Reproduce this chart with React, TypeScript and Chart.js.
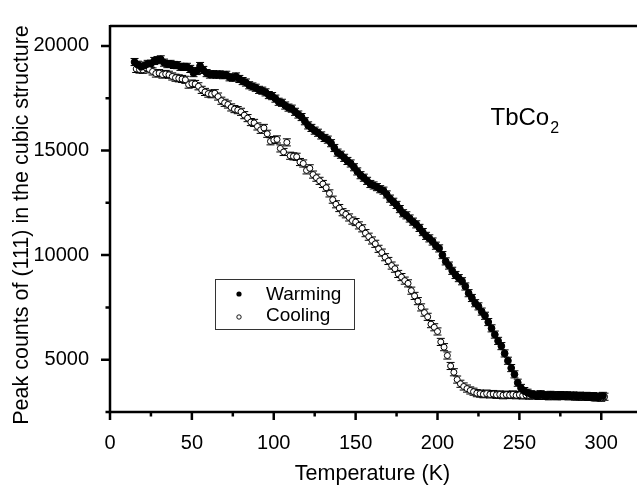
import { useEffect, useRef } from "react";
import { Chart, registerables } from "chart.js";

Chart.register(...registerables);

// ---- Data ----
const warmingT = [
  15, 17, 19, 21, 23, 25, 27, 29, 31, 33, 35, 37, 39, 41, 43, 45, 47, 49, 51, 53,
  55, 57, 59, 61, 63, 65, 67, 69, 71, 73, 75, 77, 79, 81, 83, 85, 87, 89, 91, 93,
  95, 97, 99, 101, 103, 105, 107, 109, 111, 113, 115, 117, 119, 121, 123, 125, 127, 129, 131, 133,
  135, 137, 139, 141, 143, 145, 147, 149, 151, 153, 155, 157, 159, 161, 163, 165, 167, 169, 171, 173,
  175, 177, 179, 181, 183, 185, 187, 189, 191, 193, 195, 197, 199, 201, 203, 205, 207, 209, 211, 213,
  215, 217, 219, 221, 223, 225, 227, 229, 231, 233, 235, 237, 239, 241, 243, 245, 247, 249, 251, 253,
  255, 257, 259, 261, 263, 265, 267, 269, 271, 273, 275, 277, 279, 281, 283, 285, 287, 289, 291, 293,
  295, 297, 299, 301,
];
const warmingCounts = [
  19230, 19100, 19000, 19060, 19140, 19150, 19280, 19320, 19360, 19200, 19130, 19140, 19090, 19080, 19000, 18997, 19000, 18900, 18700, 18800,
  19040, 18850, 18700, 18630, 18650, 18620, 18640, 18600, 18620, 18500, 18480, 18540, 18420, 18320, 18250, 18120, 18060, 18000, 17900, 17860,
  17780, 17650, 17600, 17480, 17330, 17280, 17150, 17050, 17000, 16850, 16720, 16600, 16400, 16200, 16080, 15950, 15850, 15720, 15600, 15520,
  15350, 15120, 14900, 14800, 14650, 14500, 14380, 14200, 14000, 13820, 13700, 13550, 13400, 13330, 13250, 13150, 13080, 12900, 12700, 12550,
  12400, 12200, 12000, 11900, 11750, 11600, 11470, 11300, 11100, 10920, 10800, 10650, 10450, 10320, 10000, 9700, 9500, 9250, 9050, 8900,
  8750, 8500, 8180, 7950, 7700, 7550, 7300, 7100, 6800, 6500, 6200, 5900, 5650, 5300, 4950, 4600, 4300, 3900, 3650, 3500,
  3420, 3350, 3320, 3280, 3350, 3300, 3270, 3320, 3290, 3250, 3310, 3280, 3300, 3260, 3290, 3240, 3280, 3250, 3270, 3230,
  3260, 3200, 3240, 3270,
];

const coolingT = [
  16, 18, 20, 22, 24, 26, 28, 30, 32, 34, 36, 38, 40, 42, 44, 46, 48, 50, 52, 54,
  56, 58, 60, 62, 64, 66, 68, 70, 72, 74, 76, 78, 80, 82, 84, 86, 88, 90, 92, 94,
  96, 98, 100, 102, 104, 106, 108, 110, 112, 114, 116, 118, 120, 122, 124, 126, 128, 130, 132, 134,
  136, 138, 140, 142, 144, 146, 148, 150, 152, 154, 156, 158, 160, 162, 164, 166, 168, 170, 172, 174,
  176, 178, 180, 182, 184, 186, 188, 190, 192, 194, 196, 198, 200, 202, 204, 206, 208, 210, 212, 214,
  216, 218, 220, 222, 224, 226, 228, 230, 232, 234, 236, 238, 240, 242, 244, 246, 248, 250, 252, 254,
  256, 258, 260, 262, 264, 266, 268, 270, 272, 274, 276, 278, 280, 282, 284, 286, 288, 290, 292, 294,
  296, 298, 300, 302,
];
const coolingCounts = [
  18900, 18870, 18860, 18950, 18880, 18780, 18680, 18700, 18630, 18660, 18620, 18540, 18480, 18450, 18420, 18380, 18150, 18200, 18180, 18070,
  17900, 17800, 17720, 17690, 17740, 17580, 17380, 17280, 17200, 17060, 16980, 16930, 16850, 16690, 16550, 16360, 16320, 16150, 15990, 16080,
  15800, 15440, 15500, 15530, 15100, 14930, 15390, 14750, 14720, 14700, 14450, 14380, 14050, 14150, 13850, 13700, 13550, 13400, 13220, 12950,
  12650, 12430, 12250, 12050, 11950, 11800, 11650, 11580, 11420, 11280, 11050, 10880, 10700, 10540, 10300, 10120, 9900, 9720, 9500, 9350,
  9100, 8950, 8780, 8650, 8300, 8050, 7800, 7500, 7250, 7050, 6700, 6550, 6350, 5850, 5600, 5200, 4700, 4400, 4050, 3850,
  3720, 3620, 3530, 3470, 3400, 3380, 3350, 3380, 3340, 3360, 3320, 3340, 3300, 3330, 3310, 3340, 3300, 3320, 3290, 3310,
  3280, 3300, 3320, 3270, 3300, 3280, 3250, 3290, 3270, 3300, 3260, 3280, 3250, 3270, 3240, 3260, 3230, 3250, 3220, 3240,
  3200, 3220, 3180, 3230,
];

const countError = 170;

const xMajorTicks = [0, 50, 100, 150, 200, 250, 300];
const xMinorTicks = [25, 75, 125, 175, 225, 275];
const yMajorTicks = [5000, 10000, 15000, 20000];
const yMinorTicks = [2500, 7500, 12500, 17500];

const xTitle = "Temperature (K)";
const yTitle = "Peak counts of (111) in the cubic structure";
const seriesLabels = ["Warming", "Cooling"];
const sampleName = "TbCo";
const sampleSub = "2";

const FONT = "'Liberation Sans', Arial, Helvetica, sans-serif";

const decorPlugin = {
  id: "decor",
  beforeDatasetsDraw(chart: any) {
    const ctx = chart.ctx;
    const ys = chart.scales.y;
    ctx.save();
    ctx.strokeStyle = "#000";
    ctx.lineWidth = 1;
    chart.data.datasets.forEach((ds: any, di: number) => {
      const meta = chart.getDatasetMeta(di);
      meta.data.forEach((pt: any, i: number) => {
        const v = ds.data[i].y;
        const x = pt.x;
        const yTop = ys.getPixelForValue(v + countError);
        const yBot = ys.getPixelForValue(v - countError);
        ctx.beginPath();
        ctx.moveTo(x, yTop);
        ctx.lineTo(x, yBot);
        ctx.moveTo(x - 4, yTop);
        ctx.lineTo(x + 4, yTop);
        ctx.moveTo(x - 4, yBot);
        ctx.lineTo(x + 4, yBot);
        ctx.stroke();
      });
    });
    ctx.restore();
  },
  afterDraw(chart: any) {
    const ctx = chart.ctx;
    const { left, right, top, bottom } = chart.chartArea;
    const xs = chart.scales.x;
    const ys = chart.scales.y;
    ctx.save();
    ctx.strokeStyle = "#000";
    ctx.lineWidth = 2.5;
    ctx.beginPath();
    ctx.moveTo(left, top + 1);
    ctx.lineTo(right + 2, top + 1);
    ctx.moveTo(left, top);
    ctx.lineTo(left, bottom + 1.25);
    ctx.moveTo(left - 1.25, bottom);
    ctx.lineTo(right + 2, bottom);
    ctx.stroke();

    ctx.lineWidth = 2.5;
    ctx.beginPath();
    xMajorTicks.forEach((v) => {
      const x = xs.getPixelForValue(v);
      ctx.moveTo(x, bottom);
      ctx.lineTo(x, bottom + 8);
    });
    xMinorTicks.forEach((v) => {
      const x = xs.getPixelForValue(v);
      ctx.moveTo(x, bottom);
      ctx.lineTo(x, bottom + 4.5);
    });
    yMajorTicks.forEach((v) => {
      const y = ys.getPixelForValue(v);
      ctx.moveTo(left, y);
      ctx.lineTo(left - 9, y);
    });
    yMinorTicks.forEach((v) => {
      const y = ys.getPixelForValue(v);
      ctx.moveTo(left, y);
      ctx.lineTo(left - 4.5, y);
    });
    ctx.stroke();

    // Axis titles
    ctx.fillStyle = "#000";
    ctx.font = `21.5px ${FONT}`;
    ctx.textAlign = "center";
    ctx.textBaseline = "middle";
    ctx.fillText(xTitle, (left + right) / 2, 474);
    ctx.save();
    ctx.translate(22, 225);
    ctx.rotate(-Math.PI / 2);
    ctx.fillText(yTitle, 0, 0);
    ctx.restore();

    // Sample name with subscript
    ctx.textAlign = "left";
    ctx.textBaseline = "alphabetic";
    ctx.font = `24px ${FONT}`;
    ctx.fillText(sampleName, 490.5, 125);
    const w = ctx.measureText(sampleName).width;
    ctx.font = `16px ${FONT}`;
    ctx.fillText(sampleSub, 490.5 + w + 1, 133);

    // Legend box
    ctx.lineWidth = 1;
    ctx.strokeStyle = "#333";
    ctx.strokeRect(215.5, 279.5, 139, 50);
    ctx.fillStyle = "#000";
    ctx.beginPath();
    ctx.arc(239, 294, 2.6, 0, Math.PI * 2);
    ctx.fill();
    ctx.beginPath();
    ctx.arc(239, 317, 2.2, 0, Math.PI * 2);
    ctx.fillStyle = "#fff";
    ctx.fill();
    ctx.strokeStyle = "#000";
    ctx.lineWidth = 0.9;
    ctx.stroke();
    ctx.fillStyle = "#000";
    ctx.font = `19px ${FONT}`;
    ctx.fillText(seriesLabels[0], 266, 300);
    ctx.fillText(seriesLabels[1], 266, 321);
    ctx.restore();
  },
};

export default function App() {
  const ref = useRef<HTMLCanvasElement | null>(null);

  useEffect(() => {
    if (!ref.current) return;
    const chart = new Chart(ref.current, {
      type: "scatter",
      data: {
        datasets: [
          {
            label: seriesLabels[0],
            data: warmingT.map((t, i) => ({ x: t, y: warmingCounts[i] })),
            pointStyle: "circle",
            pointRadius: 3.4,
            pointBackgroundColor: "#000",
            pointBorderColor: "#000",
            pointBorderWidth: 1,
            showLine: false,
          },
          {
            label: seriesLabels[1],
            data: coolingT.map((t, i) => ({ x: t, y: coolingCounts[i] })),
            pointStyle: "circle",
            pointRadius: 3,
            pointBackgroundColor: "#fff",
            pointBorderColor: "#000",
            pointBorderWidth: 1,
            showLine: false,
          },
        ],
      },
      options: {
        responsive: false,
        animation: false,
        devicePixelRatio: 1,
        layout: { padding: { top: 11.66, right: 0, left: 0, bottom: 0 } },
        plugins: {
          legend: { display: false },
          tooltip: { enabled: false },
        },
        scales: {
          x: {
            type: "linear",
            min: 0,
            max: 320.6,
            grid: { display: false },
            border: { display: false },
            afterBuildTicks: (scale: any) => {
              scale.ticks = xMajorTicks.map((v) => ({ value: v }));
            },
            afterFit: (scale: any) => {
              scale.height = 80;
            },
            ticks: {
              color: "#000",
              font: { size: 20, family: FONT },
              padding: 11,
              maxRotation: 0,
              autoSkip: false,
              callback: (v: any) => String(v),
            },
          },
          y: {
            type: "linear",
            min: 2500,
            max: 21000,
            grid: { display: false },
            border: { display: false },
            afterBuildTicks: (scale: any) => {
              scale.ticks = yMajorTicks.map((v) => ({ value: v }));
            },
            afterFit: (scale: any) => {
              scale.width = 110;
            },
            ticks: {
              color: "#000",
              font: { size: 20, family: FONT },
              padding: 13,
              autoSkip: false,
              callback: (v: any) => String(v),
            },
          },
        },
      },
      plugins: [decorPlugin],
    } as any);
    return () => chart.destroy();
  }, []);

  return (
    <div style={{ position: "absolute", left: 0, top: 0, width: 640, height: 492, background: "#fff" }}>
      <canvas ref={ref} width={640} height={492} style={{ display: "block" }} />
    </div>
  );
}
